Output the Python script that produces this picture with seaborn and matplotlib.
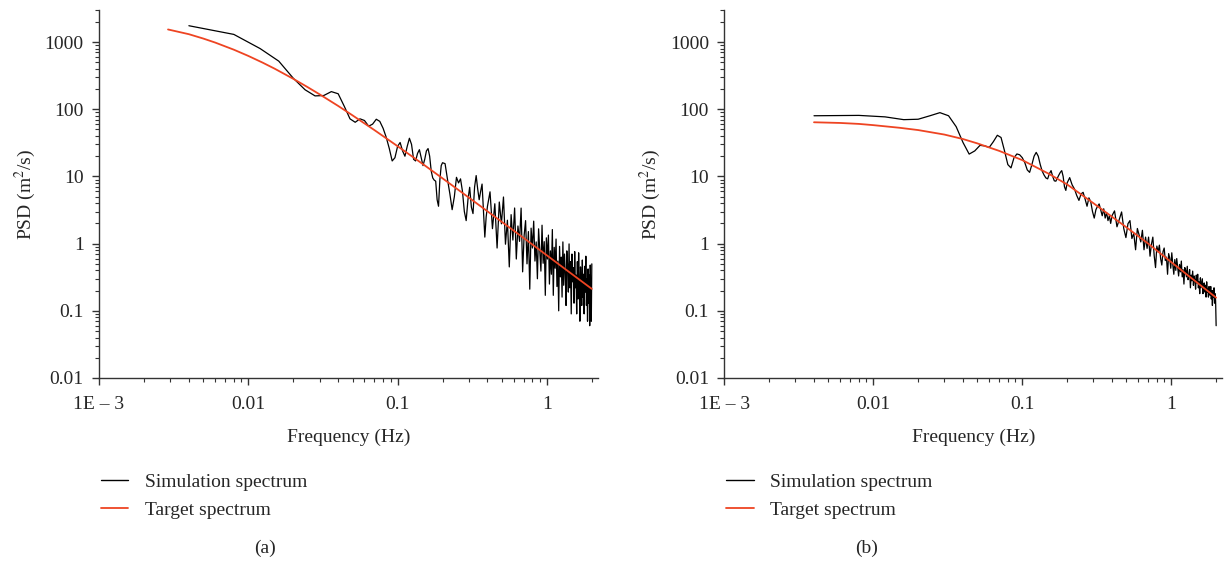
import numpy as np
import pandas as pd
import matplotlib
matplotlib.use("Agg")
import matplotlib.pyplot as plt
import seaborn as sns
from matplotlib.ticker import LogLocator, NullFormatter
from matplotlib.lines import Line2D

# ---------------- data ----------------
freq_lo = np.round(np.arange(1, 51) * 0.004, 3)
freq_mid = np.round(0.2 + np.arange(1, 26) * 0.008, 3)
freq_hi = np.round(0.4 + np.arange(1, 101) * 0.016, 3)
sim_freq = np.concatenate([freq_lo, freq_mid, freq_hi])

sim_a_lo = [1750, 1300, 800, 520, 290, 195, 158, 160, 183, 170,
            110, 72, 64, 72, 68, 56, 60, 71, 66, 52,
            38, 26, 17, 19, 28, 32, 24, 20, 28, 37,
            30, 18, 17, 22, 25, 19, 14.5, 18, 24, 26,
            20, 12, 9.5, 8.8, 8.5, 4.5, 3.6, 9, 14.5, 16]
sim_a_mid = [15.5, 9, 5.5, 3.2, 5, 9.7, 8, 9.2, 6, 3,
             2.2, 4.5, 6.9, 3.5, 2.8, 7, 10.3, 6.5, 4.5, 6,
             7.7, 3, 1.25, 2.5, 3.6]
sim_a_hi = [5.9, 1.67, 3.92, 0.86, 4.16, 1.97, 4.94, 0.98, 2.23, 0.45,
            2.70, 1.13, 3.39, 0.59, 1.83, 1.08, 3.38, 0.38, 1.32, 2.20,
            0.50, 1.51, 0.21, 1.70, 0.86, 2.16, 0.55, 1.06, 0.30, 1.66,
            0.80, 0.39, 1.88, 0.51, 1.07, 0.17, 1.22, 0.59, 1.34, 0.25,
            0.78, 0.35, 1.62, 0.17, 0.88, 0.43, 1.17, 0.23, 0.55, 0.10,
            0.91, 0.32, 0.63, 0.16, 1.06, 0.24, 0.70, 0.37, 0.12, 0.78,
            0.47, 0.19, 0.99, 0.22, 0.54, 0.09, 0.70, 0.27, 0.44, 0.13,
            0.76, 0.22, 0.34, 0.09, 0.54, 0.15, 0.73, 0.26, 0.07, 0.45,
            0.26, 0.12, 0.57, 0.16, 0.35, 0.09, 0.46, 0.19, 0.65, 0.12,
            0.30, 0.07, 0.42, 0.13, 0.34, 0.06, 0.48, 0.14, 0.07, 0.50]
sim_a = sim_a_lo + sim_a_mid + sim_a_hi

sim_b_lo = [80, 81, 77, 70, 71, 80, 89, 80, 55, 32,
            21.5, 24, 29, 28.5, 27, 33, 41, 38, 24, 15,
            13.4, 19, 21.6, 21, 19, 16, 12.5, 11.5, 15, 20,
            22.8, 20, 15, 12, 10.5, 9.5, 9.2, 11, 12.2, 10,
            8.6, 8.5, 9.5, 10.5, 11.5, 12.2, 10, 7, 6.2, 8]
sim_b_mid = [9.6, 7.5, 6.5, 5.2, 4.4, 5.5, 5.8, 4.6, 3.6, 4.8,
             4.2, 3.0, 2.4, 3.2, 3.6, 3.9, 3.2, 2.6, 3.3, 2.4,
             2.9, 2.2, 2.6, 2.0, 2.6]
sim_b_hi = [3.07, 1.78, 2.30, 2.96, 1.67, 1.23, 1.98, 2.20, 1.19, 1.42,
            0.81, 1.68, 1.35, 1.06, 1.58, 0.81, 1.25, 0.85, 1.25, 0.65,
            0.98, 1.25, 0.66, 0.44, 0.92, 0.75, 0.95, 0.60, 0.48, 0.76,
            0.86, 0.56, 0.63, 0.35, 0.71, 0.61, 0.43, 0.73, 0.48, 0.35,
            0.58, 0.40, 0.60, 0.45, 0.33, 0.49, 0.38, 0.55, 0.32, 0.41,
            0.25, 0.44, 0.40, 0.32, 0.46, 0.29, 0.33, 0.41, 0.22, 0.34,
            0.28, 0.39, 0.24, 0.33, 0.29, 0.21, 0.34, 0.26, 0.35, 0.22,
            0.27, 0.18, 0.31, 0.22, 0.26, 0.30, 0.18, 0.23, 0.26, 0.19,
            0.24, 0.16, 0.27, 0.19, 0.21, 0.16, 0.23, 0.19, 0.17, 0.23,
            0.15, 0.20, 0.12, 0.20, 0.16, 0.22, 0.13, 0.18, 0.14, 0.06]
sim_b = sim_b_lo + sim_b_mid + sim_b_hi

target_freq_a = [0.0029, 0.004, 0.005, 0.006, 0.008, 0.01, 0.0125, 0.015, 0.02,
                 0.025, 0.03, 0.04, 0.05, 0.07, 0.1, 0.15, 0.2, 0.3, 0.5, 0.7,
                 1.0, 1.5, 2.0]
target_a = [1540, 1309, 1127, 983, 770, 622, 493, 402, 284,
            213, 167, 112, 80.9, 48.9, 28.2, 14.9, 9.37, 4.85, 2.10, 1.21,
            0.669, 0.341, 0.212]

target_freq_b = [0.004, 0.006, 0.008, 0.01, 0.015, 0.02, 0.03, 0.04, 0.05, 0.07,
                 0.1, 0.15, 0.2, 0.3, 0.5, 0.7, 1.0, 1.5, 2.0]
target_b = [64, 62.5, 60.5, 58, 53, 49, 42, 36, 31, 24,
            17.5, 11, 7.6, 4.0, 1.75, 1.0, 0.53, 0.26, 0.157]

series_labels = ["Simulation spectrum", "Target spectrum"]
xtick_vals = [1e-3, 1e-2, 1e-1, 1]
xtick_labels = ["1E \u2013 3", "0.01", "0.1", "1"]
ytick_vals = [0.01, 0.1, 1, 10, 100, 1000]
ytick_labels = ["0.01", "0.1", "1", "10", "100", "1000"]
panel_labels = ["(a)", "(b)"]

# ---------------- style ----------------
sns.set_style("ticks")
plt.rcParams["font.family"] = ["Liberation Serif", "DejaVu Serif"]
plt.rcParams["mathtext.fontset"] = "stix"
RED = "#EE4422"
FS = 14

fig = plt.figure(figsize=(12.24, 5.64), dpi=100)
W, H = 1224, 564
axes_px = [(99, 499), (724.3, 498)]

panels = [(sim_a, target_freq_a, target_a), (sim_b, target_freq_b, target_b)]
caption_x = [265, 867]

for i, ((left, width), (sim, tf, tv)) in enumerate(zip(axes_px, panels)):
    ax = fig.add_axes([left / W, 1 - 378 / H, width / W, 368 / H])
    df_sim = pd.DataFrame({"freq": sim_freq, "psd": sim})
    df_tar = pd.DataFrame({"freq": tf, "psd": tv})
    sns.lineplot(data=df_sim, x="freq", y="psd", color="black", lw=0.9,
                 estimator=None, sort=False, ax=ax)
    sns.lineplot(data=df_tar, x="freq", y="psd", color=RED, lw=1.3,
                 estimator=None, sort=False, ax=ax)
    ax.set_xscale("log")
    ax.set_yscale("log")
    ax.set_xlim(1e-3, 2.2)
    ax.set_ylim(0.01, 3000)
    for s in ["top", "right"]:
        ax.spines[s].set_visible(False)
    for s in ["left", "bottom"]:
        ax.spines[s].set_color("#333333")
        ax.spines[s].set_linewidth(1.0)
    ax.set_xticks(xtick_vals, labels=xtick_labels)
    ax.set_yticks(ytick_vals, labels=ytick_labels)
    ax.xaxis.set_minor_locator(LogLocator(base=10, subs=np.arange(2, 10)))
    ax.yaxis.set_minor_locator(LogLocator(base=10, subs=np.arange(2, 10)))
    ax.xaxis.set_minor_formatter(NullFormatter())
    ax.yaxis.set_minor_formatter(NullFormatter())
    ax.tick_params(which="major", direction="out", length=5, width=1.0,
                   labelsize=FS, color="#333333")
    ax.tick_params(which="minor", direction="out", length=3, width=0.8,
                   color="#333333")
    ax.tick_params(axis="x", which="major", pad=8)
    ax.tick_params(axis="y", which="major", pad=6)
    ax.set_xlabel("Frequency (Hz)", fontsize=FS, labelpad=11)
    ax.set_ylabel(r"PSD (m$^{2}$/s)", fontsize=FS, labelpad=5)

    handles = [Line2D([], [], color="black", lw=1.0),
               Line2D([], [], color=RED, lw=1.3)]
    ax.legend(handles=handles, labels=series_labels, loc="upper left",
              bbox_to_anchor=((left + 2) / W, 1 - 473 / H),
              bbox_transform=fig.transFigure, frameon=False, fontsize=FS,
              handlelength=1.4, handletextpad=0.85, labelspacing=0.55,
              borderpad=0, borderaxespad=0)
    fig.text(caption_x[i] / W, 1 - 548 / H, panel_labels[i], ha="center",
             va="center", fontsize=FS)

fig.savefig("out.png", dpi=100)
